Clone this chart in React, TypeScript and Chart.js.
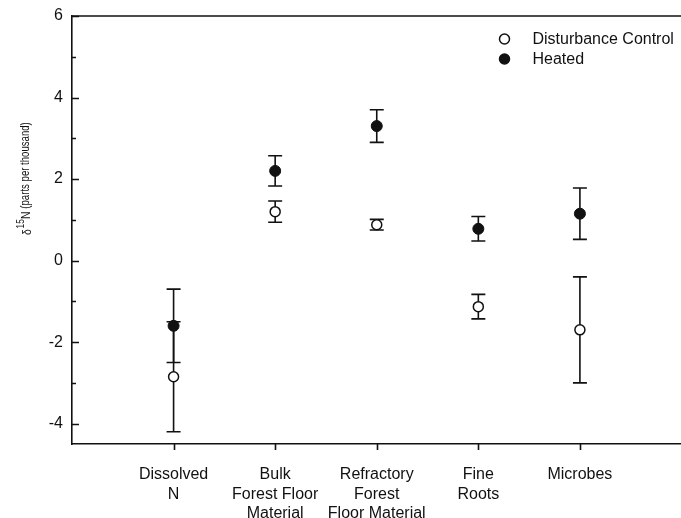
import { useEffect, useRef } from "react";
import { Chart, registerables } from "chart.js";

Chart.register(...registerables);

// Sample groups along the x axis (multi-line labels)
const categories: string[][] = [
  ["Dissolved", "N"],
  ["Bulk", "Forest Floor", "Material"],
  ["Refractory", "Forest", "Floor Material"],
  ["Fine", "Roots"],
  ["Microbes"],
];
const categoryPositions = [1, 2, 3, 4, 5];

// δ15N means and error half-widths (‰)
const controlMeans = [-2.85, 1.2, 0.88, -1.13, -1.7];
const controlErrors = [1.35, 0.26, 0.13, 0.3, 1.3];
const heatedMeans = [-1.6, 2.2, 3.3, 0.78, 1.15];
const heatedErrors = [0.9, 0.37, 0.4, 0.3, 0.63];

const seriesLabels = ["Disturbance Control", "Heated"];

const yMajorTicks = [-4, -2, 0, 2, 4, 6];
const yMinorTicks = [-3, -1, 1, 3, 5];

const FONT = '"Liberation Sans", Arial, Helvetica, sans-serif';
const INK = "#111";

const errorsByDataset = [controlErrors, heatedErrors];

const errorBarPlugin = {
  id: "errorBars",
  beforeDatasetsDraw(chart: any) {
    const { ctx, scales } = chart;
    const y = scales.y;
    ctx.save();
    ctx.strokeStyle = INK;
    ctx.lineWidth = 1.6;
    chart.data.datasets.forEach((ds: any, di: number) => {
      const meta = chart.getDatasetMeta(di);
      const errs = errorsByDataset[di];
      meta.data.forEach((pt: any, i: number) => {
        const v = ds.data[i].y;
        const top = y.getPixelForValue(v + errs[i]);
        const bot = y.getPixelForValue(v - errs[i]);
        const cap = 7;
        ctx.beginPath();
        ctx.moveTo(pt.x, top);
        ctx.lineTo(pt.x, bot);
        ctx.moveTo(pt.x - cap, top);
        ctx.lineTo(pt.x + cap, top);
        ctx.moveTo(pt.x - cap, bot);
        ctx.lineTo(pt.x + cap, bot);
        ctx.stroke();
      });
    });
    ctx.restore();
  },
};

const framePlugin = {
  id: "frame",
  afterDraw(chart: any) {
    const { ctx, chartArea, scales } = chart;
    const { left, right, top, bottom } = chartArea;
    const y = scales.y;
    const x = scales.x;
    ctx.save();
    ctx.strokeStyle = INK;
    ctx.lineWidth = 1.6;

    // top frame line
    ctx.beginPath();
    ctx.moveTo(left, top);
    ctx.lineTo(right, top);
    ctx.stroke();

    // inward y ticks
    ctx.beginPath();
    yMajorTicks.forEach((v) => {
      const py = Math.round(y.getPixelForValue(v)) + 0.5;
      ctx.moveTo(left, py);
      ctx.lineTo(left + 7, py);
    });
    yMinorTicks.forEach((v) => {
      const py = Math.round(y.getPixelForValue(v)) + 0.5;
      ctx.moveTo(left, py);
      ctx.lineTo(left + 4, py);
    });
    // outward x ticks
    categoryPositions.forEach((v) => {
      const px = Math.round(x.getPixelForValue(v)) + 0.5;
      ctx.moveTo(px, bottom);
      ctx.lineTo(px, bottom + 6);
    });
    ctx.stroke();

    // legend
    const lx = right - 177;
    const ly = top + 23;
    const rows = [
      { fill: "#fff", label: seriesLabels[0] },
      { fill: INK, label: seriesLabels[1] },
    ];
    ctx.font = `16px ${FONT}`;
    ctx.textBaseline = "middle";
    ctx.textAlign = "left";
    rows.forEach((r, i) => {
      const cy = ly + i * 20;
      ctx.beginPath();
      ctx.arc(lx, cy, 5, 0, Math.PI * 2);
      ctx.fillStyle = r.fill;
      ctx.fill();
      ctx.lineWidth = 1.5;
      ctx.stroke();
      ctx.fillStyle = INK;
      ctx.fillText(r.label, lx + 28, cy + 1);
    });

    // rotated y-axis title with superscript
    ctx.translate(26, 235);
    ctx.rotate(-Math.PI / 2);
    ctx.scale(0.8, 1);
    ctx.fillStyle = INK;
    ctx.textBaseline = "middle";
    let cx = 0;
    ctx.font = `13px ${FONT}`;
    ctx.fillText("δ", cx, 1);
    cx += ctx.measureText("δ").width + 1;
    ctx.font = `10.5px ${FONT}`;
    ctx.fillText("15", cx, -5);
    cx += ctx.measureText("15").width;
    ctx.font = `13px ${FONT}`;
    ctx.fillText("N", cx, 0);
    cx += ctx.measureText("N ").width;
    ctx.font = `12px ${FONT}`;
    ctx.fillText("(parts per thousand)", cx, 0);
    ctx.restore();
  },
};

export default function App() {
  const canvasRef = useRef<HTMLCanvasElement | null>(null);

  useEffect(() => {
    if (!canvasRef.current) return;
    const chart = new Chart(canvasRef.current, {
      type: "scatter",
      data: {
        datasets: [
          {
            label: seriesLabels[0],
            data: categoryPositions.map((p, i) => ({ x: p, y: controlMeans[i] })),
            pointStyle: "circle",
            pointRadius: 5,
            pointBackgroundColor: "#fff",
            pointBorderColor: INK,
            pointBorderWidth: 1.5,
          },
          {
            label: seriesLabels[1],
            data: categoryPositions.map((p, i) => ({ x: p, y: heatedMeans[i] })),
            pointStyle: "circle",
            pointRadius: 5.5,
            pointBackgroundColor: INK,
            pointBorderColor: INK,
            pointBorderWidth: 1,
          },
        ],
      },
      options: {
        responsive: false,
        animation: false,
        layout: { padding: { top: 16, left: 0, right: 0, bottom: 0 } },
        plugins: {
          legend: { display: false },
          tooltip: { enabled: false },
        },
        scales: {
          x: {
            type: "linear",
            min: 0,
            max: 6,
            afterBuildTicks: (s: any) => {
              s.ticks = categoryPositions.map((v) => ({ value: v }));
            },
            afterFit: (s: any) => {
              s.height = 74;
            },
            grid: { display: false, drawTicks: false },
            border: { display: true, color: INK, width: 1.6 },
            ticks: {
              autoSkip: false,
              maxRotation: 0,
              padding: 21,
              color: INK,
              font: { family: FONT, size: 16, lineHeight: 1.22 },
              callback: (_v: any, i: number) => categories[i],
            },
          },
          y: {
            min: -4.5,
            max: 6,
            afterBuildTicks: (s: any) => {
              s.ticks = yMajorTicks.map((v) => ({ value: v }));
            },
            afterFit: (s: any) => {
              s.width = 72;
              s.paddingTop = 0;
              s.paddingBottom = 0;
            },
            grid: { display: false, drawTicks: false },
            border: { display: true, color: INK, width: 1.6 },
            ticks: {
              padding: 9,
              color: INK,
              font: { family: FONT, size: 16 },
              callback: (v: any) => String(v),
            },
          },
        },
      },
      plugins: [errorBarPlugin, framePlugin],
    });
    return () => chart.destroy();
  }, []);

  // The canvas is a little wider than the frame so the plot runs to the right edge.
  return (
    <div style={{ position: "absolute", left: 0, top: 0, width: 681, height: 518, background: "#fff", overflow: "hidden" }}>
      <canvas ref={canvasRef} width={688} height={518} style={{ display: "block" }} />
    </div>
  );
}
